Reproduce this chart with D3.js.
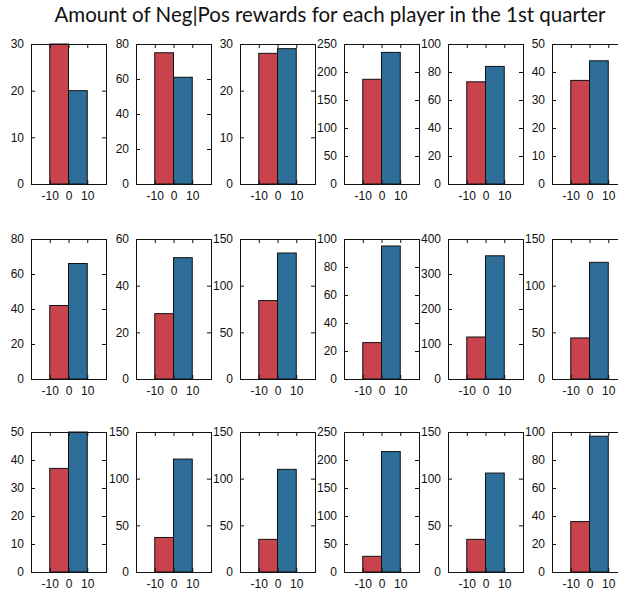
<!DOCTYPE html>
<html>
<head>
<meta charset="utf-8">
<script src="https://cdn.jsdelivr.net/npm/d3@7"></script>
<style>
  html, body { margin: 0; padding: 0; background: #fff; }
  svg { display: block; }
</style>
</head>
<body>
<script>
// Reward sign bins (bar centres) and their labels
const bins = [-5, 5];
const xTicks = [-10, 0, 10];
const seriesNames = ["Neg", "Pos"];

// Per-player counts of negative / positive rewards, rows of six players
const negRewards = [
  30, 75, 28, 187, 73, 37,
  42, 28, 84, 26, 120, 44,
  37, 37, 35, 28, 35, 36
];
const posRewards = [
  20, 61, 29, 235, 84, 44,
  66, 52, 135, 95, 352, 125,
  50, 121, 110, 215, 106, 97
];

// y-axis upper limits and tick steps for each player's panel
const yMax = [
  30, 80, 30, 250, 100, 50,
  80, 60, 150, 100, 400, 150,
  50, 150, 150, 250, 150, 100
];
const yStep = [
  10, 20, 10, 50, 20, 10,
  20, 20, 50, 20, 100, 50,
  10, 50, 50, 50, 50, 20
];

const titleText = "Amount of Neg|Pos rewards for each player in the 1st quarter";

const W = 618, H = 592;
const colors = ["#c9434d", "#2d6e98"];
const panelW = 75, panelH = 140;
const colLeft = [31, 136, 240, 344, 448, 552];
const rowTop = [44, 239, 432];
const tickLen = 4;
// plain hyphen-minus for negative tick labels
const fmt = d => String(d);

const svg = d3.select("body").append("svg")
  .attr("width", W).attr("height", H);

svg.append("text")
  .attr("x", 330).attr("y", 22)
  .attr("text-anchor", "middle")
  .attr("font-family", "Lato, 'Open Sans', sans-serif")
  .attr("font-size", 20.5)
  .attr("fill", "#111")
  .text(titleText);

const x = d3.scaleLinear().domain([-20, 20]).range([0, panelW]);
const binWidth = 10;

for (let i = 0; i < negRewards.length; i++) {
  const r = Math.floor(i / 6), c = i % 6;
  const g = svg.append("g")
    .attr("transform", `translate(${colLeft[c]},${rowTop[r]})`);

  const y = d3.scaleLinear().domain([0, yMax[i]]).range([panelH, 0]);
  const yt = d3.range(0, yMax[i] + yStep[i] / 2, yStep[i]);
  const vals = [negRewards[i], posRewards[i]];

  // bars
  g.selectAll("rect.bar")
    .data(vals)
    .join("rect")
    .attr("class", "bar")
    .attr("x", (d, k) => x(bins[k] - binWidth / 2))
    .attr("width", (d, k) => x(bins[k] + binWidth / 2) - x(bins[k] - binWidth / 2))
    .attr("y", d => y(Math.min(d, yMax[i])))
    .attr("height", d => panelH - y(Math.min(d, yMax[i])))
    .attr("fill", (d, k) => colors[k])
    .attr("stroke", "#111")
    .attr("stroke-width", 1)
    .append("title").text((d, k) => `${seriesNames[k]}: ${d}`);

  // left axis with labels, ticks pointing inward
  const yAxis = g.append("g")
    .call(d3.axisLeft(y).tickValues(yt).tickSize(-tickLen).tickPadding(tickLen + 3).tickFormat(fmt));
  // right axis, ticks only
  const yAxisR = g.append("g").attr("transform", `translate(${panelW},0)`)
    .call(d3.axisRight(y).tickValues(yt).tickSize(-tickLen).tickFormat(""));
  // bottom axis with labels
  const xAxis = g.append("g").attr("transform", `translate(0,${panelH})`)
    .call(d3.axisBottom(x).tickValues(xTicks).tickSize(-tickLen).tickPadding(tickLen + 3).tickFormat(fmt));
  // top axis, ticks only
  const xAxisT = g.append("g")
    .call(d3.axisTop(x).tickValues(xTicks).tickSize(-tickLen).tickFormat(""));

  [yAxis, yAxisR, xAxis, xAxisT].forEach(a => {
    a.attr("font-family", "'Liberation Sans', Arial, sans-serif").attr("font-size", 12);
    a.select(".domain").attr("stroke", "#111").attr("stroke-width", 1);
    a.selectAll(".tick line").attr("stroke", "#111");
    a.selectAll("text").attr("fill", "#111");
  });
}
</script>
</body>
</html>
